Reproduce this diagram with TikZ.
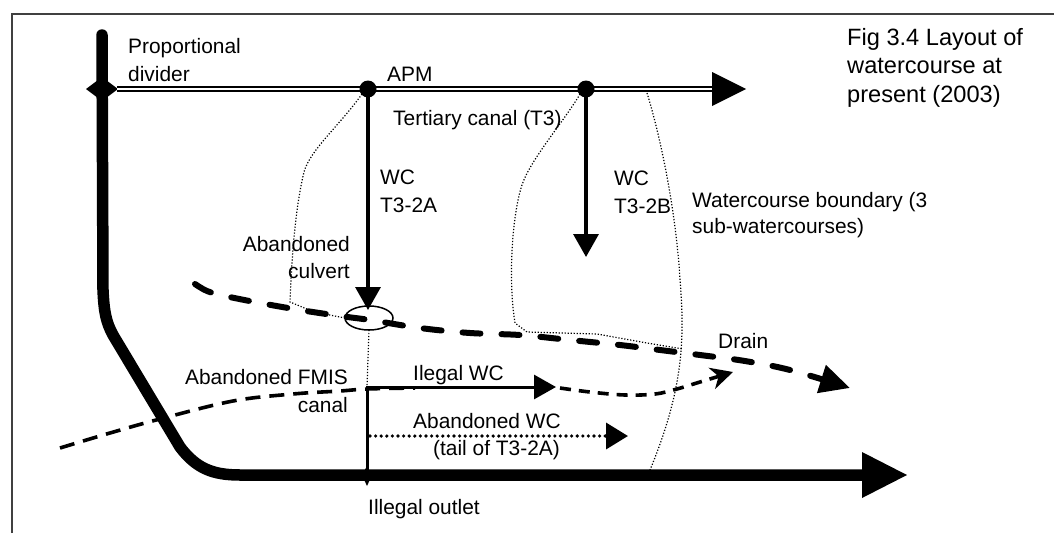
\documentclass[tikz,border=0pt]{standalone}
\usepackage{fontspec}
\setmainfont{Liberation Sans}
\usetikzlibrary{arrows.meta}
\begin{document}
\begin{tikzpicture}[x=1pt,y=-1pt,
  lbl/.style={font=\fontsize{20.9}{26}\selectfont, inner sep=0pt, anchor=base west},
  lblr/.style={lbl, anchor=base east},
  figcap/.style={font=\fontsize{23.6}{28}\selectfont, inner sep=0pt, anchor=base west},
  maincanal/.style={line width=11.5pt, line cap=round, line join=round},
  tertiary/.style={line width=1.6pt, double=white, double distance=2pt},
  wcarrow/.style={line width=3.4pt, -{Triangle[length=23pt,width=25pt]}},
  drainline/.style={line width=6pt, line cap=round, dash pattern=on 18pt off 21pt, -{Triangle[length=30pt,width=28pt]}},
  fmis/.style={line width=3.6pt, dash pattern=on 15pt off 9pt},
  ilegal/.style={line width=3pt, -{Triangle[length=22pt,width=24pt]}},
  ilegaldash/.style={line width=3.6pt, dash pattern=on 11pt off 8pt, -{Stealth[length=22pt,width=22pt,inset=7pt]}},
  abandwc/.style={line width=3.6pt, line cap=round, dash pattern=on 0pt off 5.6pt, -{Triangle[length=22pt,width=26pt]}},
  boundary/.style={line width=1.2pt, dash pattern=on 1.2pt off 1.8pt},
  framecol/.style={draw=black!75, line width=1.5pt}
]
\useasboundingbox (0,0) rectangle (1054,533);
% frame
\draw[framecol] (12,533) -- (12,14) -- (1054,14);

% named points
\coordinate (pd) at (102,89);
\coordinate (apm) at (368,89);
\coordinate (d2) at (586,89);
\coordinate (t3end) at (714,89);
\coordinate (t3tip) at (746,89);
\coordinate (wcAend) at (368,310);
\coordinate (wcBend) at (586,257);
\coordinate (culv) at (369,318);
\coordinate (outlet) at (367,475);
\coordinate (ilcorner) at (367,387);
\coordinate (iltip) at (556,387);
\coordinate (awstart) at (370,436);
\coordinate (awtip) at (628,436);
\coordinate (maintip) at (907,475);

% watercourse boundaries (thin dotted)
\draw[boundary] (362,94) .. controls (340,125) and (310,150) .. (304,172)
  .. controls (296,205) and (292,250) .. (290,302) -- (314,312) -- (345,318);
\draw[boundary] (culv) ++(0,12) -- (ilcorner);
\draw[boundary] (580,94) .. controls (565,120) and (530,160) .. (522,185)
  .. controls (512,215) and (508,280) .. (515,323) -- (527,332) -- (597,334) -- (647,343) -- (683,349);
\draw[boundary] (647,93) .. controls (660,135) and (676,210) .. (680,280)
  .. controls (685,340) and (683,390) .. (650,470);

% main canal
\draw[maincanal] (102,35) -- (103,290) .. controls (104,312) and (106,322) .. (113,335)
  -- (180,447) .. controls (196,468) and (212,475) .. (240,475) -- (864,475);
\fill (862,452) -- (maintip) -- (862,498) -- cycle;
% proportional divider
\fill (86,89) -- (102,77) -- (118,89) -- (102,101) -- cycle;
% illegal outlet
\fill (367,466) -- (372,475) -- (367,486) -- (362,475) -- cycle;

% tertiary canal
\draw[tertiary] (117,89) -- (t3end);
\fill (712,72) -- (t3tip) -- (712,106) -- cycle;
\fill (apm) circle[radius=8.5pt];
\fill (d2) circle[radius=8.5pt];

% watercourses
\draw[wcarrow] (apm) -- (wcAend);
\draw[wcarrow] (d2) -- (wcBend);

% drain
\draw[drainline] plot[smooth, tension=0.55] coordinates {(195,284) (207,291) (225,296) (260,303) (300,310) (340,316) (370,320) (420,328) (470,333) (520,335) (570,340) (620,345) (660,350) (700,355) (745,361) (790,370) (850,388)};
% abandoned culvert
\draw[line width=1.5pt] (culv) ellipse[x radius=24pt, y radius=12pt];

% abandoned FMIS canal
\draw[fmis] plot[smooth, tension=0.6] coordinates {(60,448) (110,433) (160,419) (233,401) (293,394) (340,391) (367,389) (415,388)};

% illegal WC
\draw[ilegal] (outlet) -- (ilcorner) -- (iltip);
\draw[ilegaldash] plot[smooth, tension=0.6] coordinates {(560,388) (590,392) (625,395) (655,394) (677,389) (700,382) (733,372)};

% abandoned WC
\draw[abandwc] (awstart) -- (awtip);

% labels
\node[lbl] (l1) at (128,53) {Proportional};
\node[lbl] (l2) at (128,81) {divider};
\node[lbl] (l3) at (387,81) {APM};
\node[lbl] (l4) at (393,125) {Tertiary canal (T3)};
\node[lbl] (l5) at (380,184) {WC};
\node[lbl] (l6) at (380,212) {T3-2A};
\node[lblr] (l7) at (350,251) {Abandoned};
\node[lblr] (l8) at (350,278) {culvert};
\node[lbl] (l9) at (614,185) {WC};
\node[lbl] (l10) at (614,213) {T3-2B};
\node[lbl] (l11) at (692,207) {Watercourse boundary (3};
\node[lbl] (l12) at (692,233) {sub-watercourses)};
\node[figcap] (c1) at (847,45) {Fig 3.4 Layout of};
\node[figcap] (c2) at (847,73.5) {watercourse at};
\node[figcap] (c3) at (847,102) {present (2003)};
\node[lbl] (l13) at (718,348) {Drain};
\node[lbl] (l14) at (413,380) {Ilegal WC};
\node[lblr] (l15) at (348,384) {Abandoned FMIS};
\node[lblr] (l16) at (348,412) {canal};
\node[lbl] (l17) at (413,428) {Abandoned WC};
\node[lbl] (l18) at (433,455) {(tail of T3-2A)};
\node[lbl] (l19) at (368,514) {Illegal outlet};
\end{tikzpicture}
\end{document}
